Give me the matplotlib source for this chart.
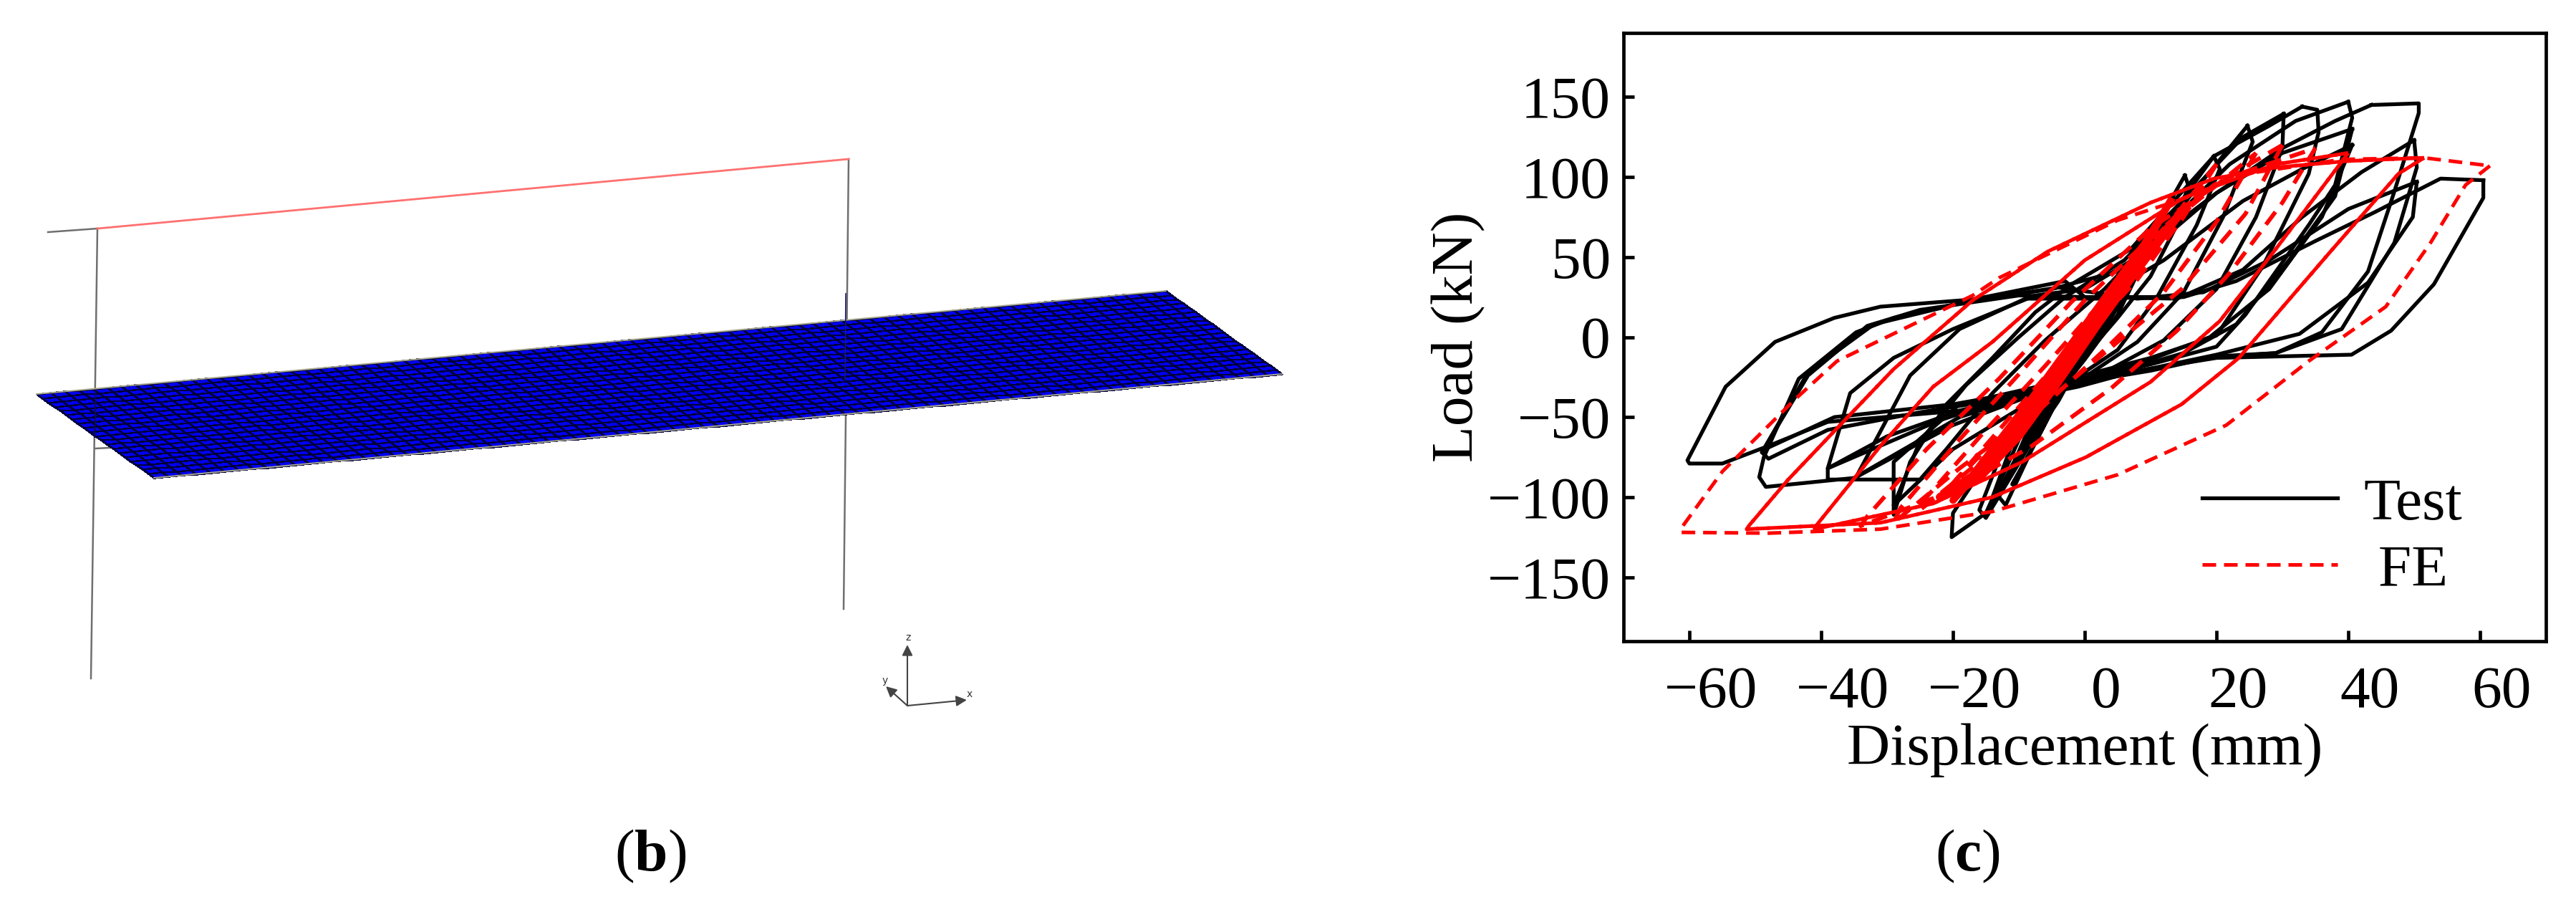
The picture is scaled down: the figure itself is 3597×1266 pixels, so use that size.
"""Panel (b) model view and panel (c) load-displacement hysteresis."""
import matplotlib
matplotlib.use("Agg")
import matplotlib.pyplot as plt
from matplotlib.colors import ListedColormap
from matplotlib.transforms import ScaledTranslation
import numpy as np

plt.rcParams["font.family"] = ["Liberation Serif", "DejaVu Serif"]
plt.rcParams["mathtext.fontset"] = "custom"
plt.rcParams["mathtext.rm"] = "Liberation Serif"
plt.rcParams["mathtext.bf"] = "Liberation Serif:bold"

W, H = 3597, 1266

# Test loops (displacement mm, load kN)
test_x_60 = [60.5, 60.5, 53, 46.5, 40.5, 20, 8, -1, -19, -39, -48, -55, -60, -60.3, -54.5, -47, -38, -31, -17, -3, 0, 15, 23, 35, 44, 54, 60.5]
test_y_60 = [98, 87, 33, 4, -11, -13, -21, -31, -46, -53, -68, -79, -79, -77, -31, -3, 12, 19, 23.5, 35, 25, 25, 35, 60, 78, 99, 98]
test_x_50a = [43.5, 50.7, 50.7, 47, 43, 36, 29, 20, 10, -4.6, -19, -35, -48.4, -49.4, -48.7, -43.4, -34.7, -29, -17, -5, 5, 12, 20, 30, 38, 43.5]
test_y_50a = [145, 146, 140, 91, 41, 3, -10, -12, -21, -31, -50, -88, -93.6, -87.5, -75, -26, 3, 12, 23, 30, 41, 65, 90, 118, 135, 145]
test_x_50b = [50, 50.4, 47, 39, 29, 18, 8, -5, -20, -38, -48, -49, -42, -33, -25, -10, 0, 14, 24, 33, 42, 50]
test_y_50b = [123, 106, 59, 5, -10, -13, -22, -31, -42, -50, -69, -72, -24, 7, 17, 26, 25, 24, 42, 75, 103, 123]
test_x_50c = [50.4, 49.8, 43, 32.6, 20, 5, -10, -25, -39, -48, -49, -42, -32, -18, -4, 8, 18, 28, 40, 50.4]
test_y_50c = [97, 75, 34, 2, -11, -24, -37, -47, -58, -76, -72, -22, 8, 22, 31, 24, 28, 48, 80, 97]
test_x_40a = [40, 40.6, 38, 34, 24.4, 20, 10, -4.6, -19, -30, -39, -39, -25, -21, -14, -6, 3, 12, 22, 32, 40]
test_y_40a = [147, 137, 95, 70, 14, -6, -17, -31, -46, -62, -82, -89, -89, -70, -35, -2, 30, 68, 108, 135, 147]
test_x_40b = [40.6, 38, 31, 23, 15, 5, -8, -22, -39, -35.6, -29, -20, -7.5, 0, 10, 20, 30, 40.6]
test_y_40b = [130, 88, 48, 8, -10, -22, -33, -52, -82, -35, -13, 5, 26, 30, 55, 90, 115, 130]
test_x_40c = [40.6, 36, 28, 19, 10, -4, -20, -34.7, -26.5, -19, -9, 2, 12, 24, 33, 40.6]
test_y_40c = [120, 75, 30, 0, -14, -30, -55, -87.5, -24, 5, 24, 24, 48, 85, 105, 120]
test_x_35 = [33, 35.3, 35.5, 34, 27, 20, 10, -4, -19, -29, -29, -26.5, -21, -14, -7.5, -2, 7, 19.6, 28, 33]
test_y_35 = [144, 142, 128, 102, 44, 1, -13, -28, -42, -78, -111, -78, -42, -13, 15.5, 33, 55, 113, 132, 144]
test_x_30 = [30.2, 30, 26, 20, 12, 3, -8, -20, -29, -25, -18, -10, -3, 6, 16, 24, 30.2]
test_y_30 = [139.5, 118, 75, 30, -2, -22, -40, -70, -105, -65, -30, 0, 25, 48, 90, 125, 139.5]
test_x_25 = [24.7, 25.5, 21, 15, 8, 0, -10, -20, -20.2, -15, -9, -3, 5, 14, 24.7]
test_y_25 = [132, 122, 75, 28, -3, -25, -48, -110, -125, -110, -55, -18, 22, 78, 132]
test_x_20 = [19.6, 20.5, 17, 11, 5, -3, -11, -16, -15, -9, -3, 4, 12, 19.6]
test_y_20 = [113, 105, 70, 25, -8, -30, -55, -108, -113, -72, -28, 12, 70, 113]
test_x_15 = [15.2, 15.7, 14, 10, 5, 0, -5, -10, -14, -12, -8, -3, 0, 4, 8, 13, 15.2]
test_y_15 = [101, 95, 70, 38, 12, -12, -32, -55, -100, -90, -55, -25, -3, 20, 45, 85, 101]
test_x_12 = [13, 10, 6, 2, -3, -8, -13, -15, -10, -5, 0, 5, 9, 13]
test_y_12 = [85, 60, 25, 0, -30, -62, -98, -112, -72, -40, -14, 14, 48, 85]
test_x_10 = [11, 9, 5, 1, -4, -9, -11, -7, -2, 3, 8, 11]
test_y_10 = [72, 52, 22, -5, -38, -78, -92, -62, -22, 15, 50, 72]
test_x_8 = [9, 5, 1, -3, -8, -12, -13, -9, -4, 1, 6, 9]
test_y_8 = [60, 30, 2, -28, -70, -105, -100, -62, -30, -2, 35, 60]
test_x_5 = [6, 3, 0, -4, -7, -4, 0, 3, 6]
test_y_5 = [42, 15, -10, -40, -58, -32, -2, 22, 42]

# FE loops
fe_x_60 = [61.5, 57.8, 52.5, 45.7, 34, 21.5, 5, -14, -31, -48, -61.3, -61, -55, -44, -37.6, -17, -13, 5, 14.7, 24.4, 39, 51.5, 61.5]
fe_y_60 = [107, 95, 59, 19, -15, -55, -86, -109, -120, -122.5, -122, -118, -84, -39, -15, 26, 37, 73, 86, 102, 111, 112, 107]
fe_x_50 = [51.5, 47.6, 37, 23.4, 14.7, 0.2, -14, -31, -51.3, -51, -45, -37.6, -29, -17, -5.6, 10, 19.6, 29, 40, 51.5]
fe_y_50 = [112, 102, 52, -13, -42, -75, -100, -116, -120, -118, -89, -57, -20, 23, 53.5, 84, 99, 106, 110, 112]
fe_x_40 = [40, 29, 20.5, 10, -9.5, -23, -41, -41, -31, -23, -14, 0, 15, 29, 40]
fe_y_40 = [115, 55, 10, -28, -78, -104, -120, -119, -68, -31, -3, 48, 87, 108, 115]
fe_x_35 = [35, 30, 22, 14, 4, -8, -20, -34, -33, -24, -13, -2, 10, 22, 35]
fe_y_35 = [118, 84, 40, 4, -32, -68, -96, -118, -112, -70, -26, 22, 68, 100, 118]
fe_x_30 = [30, 24.4, 14.7, 5, -9.5, -19, -29, -28, -19, -9.5, 0, 10, 19.6, 30]
fe_y_30 = [120, 77, 30, -3, -53, -82, -116, -107, -64, -21, 23, 62, 95, 120]
fe_x_25 = [26, 20, 12, 3, -7, -16, -25, -24, -15, -6, 3, 12, 26]
fe_y_25 = [115, 72, 28, -8, -46, -78, -108, -100, -58, -18, 24, 68, 115]
fe_x_20 = [20, 15, 8, 1, -7, -14, -22, -21, -13, -5, 3, 11, 20]
fe_y_20 = [108, 75, 36, 5, -38, -66, -100, -96, -58, -20, 20, 62, 108]
fe_x_12 = [13, 9, 4, -2, -8, -14, -20, -14, -8, -2, 4, 9, 13]
fe_y_12 = [85, 58, 30, -4, -38, -70, -102, -75, -42, -8, 25, 55, 85]
fe_x_6 = [15, 8, 2, -4, -10, -16, -22, -16, -10, -4, 2, 8, 15]
fe_y_6 = [80, 44, 12, -22, -56, -84, -100, -88, -62, -28, 8, 42, 80]

x_ticks = [-60, -40, -20, 0, 20, 40, 60]
y_ticks = [-150, -100, -50, 0, 50, 100, 150]

# Panel (b) geometry, in image pixels
plate_left = (51, 550)
plate_top = (1628, 406)
plate_right = (1790, 522)
plate_bottom = (215, 667)
beam_x = [136, 1185]
beam_y = [319, 222]
stub_x = [67, 136]
stub_y = [324, 319]
col_left_x = [136, 127]
col_left_y = [319, 947]
col_right_x = [1185, 1178]
col_right_y = [222, 850]
brace_x = [133, 194]
brace_y = [626, 623]
n_long, n_short = 80, 20

fig = plt.figure(figsize=(W / 100, H / 100), dpi=100)

# Left panel drawn straight in pixel coordinates
bg = fig.add_axes([0, 0, 1, 1])
bg.set_xlim(0, W)
bg.set_ylim(H, 0)
bg.axis("off")

gray = "#6f6f6f"
bg.plot(col_left_x, col_left_y, color=gray, lw=1.8, zorder=1)
bg.plot(col_right_x, col_right_y, color=gray, lw=1.8, zorder=1)
bg.plot(stub_x, stub_y, color=gray, lw=1.8, zorder=1)
bg.plot(brace_x, brace_y, color=gray, lw=1.8, zorder=1)
bg.plot(beam_x, beam_y, color="#ff7070", lw=2.0, zorder=2)

u, v = np.meshgrid(np.linspace(0, 1, n_long + 1), np.linspace(0, 1, n_short + 1))
p0, p1, p2, p3 = [np.array(p, dtype=float) for p in (plate_left, plate_top, plate_right, plate_bottom)]
mesh_x = (1 - u) * (1 - v) * p0[0] + u * (1 - v) * p1[0] + u * v * p2[0] + (1 - u) * v * p3[0]
mesh_y = (1 - u) * (1 - v) * p0[1] + u * (1 - v) * p1[1] + u * v * p2[1] + (1 - u) * v * p3[1]
bg.pcolormesh(mesh_x, mesh_y, np.zeros((n_short, n_long)), cmap=ListedColormap(["#0000f0"]),
              edgecolors="#00003c", linewidth=1.05, zorder=3)
bg.plot([p0[0], p1[0]], [p0[1], p1[1]], color="#a8a890", lw=1.4, zorder=4)
bg.plot([p3[0], p2[0]], [p3[1], p2[1]], color="#a8a890", lw=1.4, zorder=4)
# column shows through the plate
bg.plot([134, 132], [545, 610], color="#101040", lw=1.4, zorder=5)
bg.plot([1181, 1180], [410, 530], color="#1a1a70", lw=1.2, zorder=5)

# Coordinate triad
origin = (1267, 985)
for tip, name, lab in [((1267, 900), "z", (1268, 890)), ((1237, 958), "y", (1236, 950)), ((1350, 977), "x", (1354, 969))]:
    bg.annotate("", xy=tip, xytext=origin,
                arrowprops=dict(arrowstyle="-|>", color="#444444", lw=1.5, mutation_scale=22, shrinkA=0, shrinkB=0))
    bg.text(lab[0], lab[1], name, fontsize=10, color="#333333", ha="center", va="center", family="DejaVu Sans")

bg.text(908, 1195, r"($\mathbf{b}$)", fontsize=60, ha="center", va="center")
bg.text(2747, 1195, r"($\mathbf{c}$)", fontsize=60, ha="center", va="center")

# Right panel
ax = fig.add_axes([2267 / W, 1 - 895 / H, (3555 - 2267) / W, (895 - 46) / H])
ax.set_xlim(-70, 70)
ax.set_ylim(-190, 190)

black_loops = [
    (test_x_60, test_y_60), (test_x_50a, test_y_50a), (test_x_50b, test_y_50b), (test_x_50c, test_y_50c),
    (test_x_40a, test_y_40a), (test_x_40b, test_y_40b), (test_x_40c, test_y_40c), (test_x_35, test_y_35),
    (test_x_30, test_y_30), (test_x_25, test_y_25), (test_x_20, test_y_20), (test_x_15, test_y_15),
    (test_x_12, test_y_12), (test_x_10, test_y_10), (test_x_8, test_y_8), (test_x_5, test_y_5),
]
for i, (lx, ly) in enumerate(black_loops):
    ax.plot(lx, ly, color="black", lw=3.8, solid_joinstyle="round", zorder=2,
            label="Test" if i == 0 else None)

dash = (3.8, 2.2)
ax.plot(fe_x_60, fe_y_60, color="#ff0000", lw=3.6, linestyle=(0, dash), zorder=3, label="FE")
# repeated cycles overlap and read almost as a solid line
for lx, ly in [(fe_x_50, fe_y_50), (fe_x_40, fe_y_40)]:
    ax.plot(lx, ly, color="#ff0000", lw=3.6, linestyle=(0, dash), zorder=3)
    ax.plot(lx, ly, color="#ff0000", lw=3.6, linestyle=(3, dash), zorder=3)
for lx, ly in [(fe_x_35, fe_y_35), (fe_x_30, fe_y_30), (fe_x_25, fe_y_25), (fe_x_20, fe_y_20)]:
    ax.plot(lx, ly, color="#ff0000", lw=4.2, linestyle=(0, dash), zorder=3)
ax.plot(fe_x_12, fe_y_12, color="#ff0000", lw=7, zorder=3)
ax.plot(fe_x_6, fe_y_6, color="#ff0000", lw=8, zorder=3)

ax.set_xticks(x_ticks)
ax.set_yticks(y_ticks)
ax.tick_params(direction="in", length=11, width=3.4, labelsize=60)
ax.tick_params(axis="x", pad=25)
ax.tick_params(axis="y", pad=13)
ax.set_xlabel("Displacement (mm)", fontsize=60, labelpad=3)
ax.set_ylabel("Load (kN)", fontsize=60, labelpad=2)
for s in ax.spines.values():
    s.set_linewidth(3.4)

# x tick labels sit a little right of their ticks in the original
shift = ScaledTranslation(30 / 100, 0, fig.dpi_scale_trans)
for lab in ax.get_xticklabels():
    lab.set_transform(lab.get_transform() + shift)

handles, labels = ax.get_legend_handles_labels()
labels = ["Test", " FE"]
leg = ax.legend(handles, labels, frameon=False, fontsize=60, loc="lower left",
                bbox_to_anchor=(0.627, 0.07), handlelength=2.27, handletextpad=0.44,
                labelspacing=0.2, borderpad=0, borderaxespad=0)

fig.savefig("out.png", dpi=100)
